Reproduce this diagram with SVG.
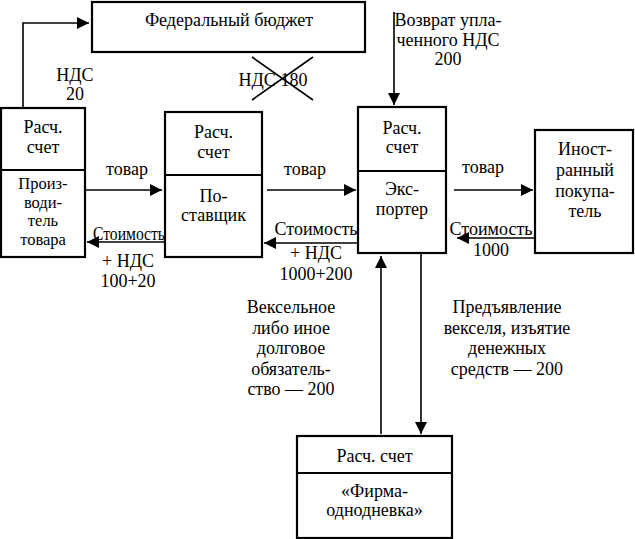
<svg xmlns="http://www.w3.org/2000/svg" width="635" height="539" viewBox="0 0 635 539">
<defs>
<marker id="ah" markerUnits="userSpaceOnUse" markerWidth="12" markerHeight="12" refX="12" refY="6" orient="auto">
<path d="M0,0 L12,6 L0,12 z" fill="#000"/>
</marker>
<style>
text{font-family:"Liberation Serif","Times New Roman",serif;font-size:18px;fill:#000;text-anchor:middle}
.tight{font-size:16.5px}
.box{fill:#fff;stroke:#000;stroke-width:2.2}
.ln{fill:none;stroke:#000;stroke-width:1.6}
.ar{fill:none;stroke:#000;stroke-width:1.6;marker-end:url(#ah)}
</style>
</defs>
<rect width="635" height="539" fill="#fff"/>

<g id="connectors">
<path class="ar" d="M23,108 V23 H89"/>
<path class="ar" d="M394,12 V105"/>
<path class="ar" d="M86,190 H162"/>
<path class="ar" d="M165,242 H87"/>
<path class="ar" d="M267,190 H356"/>
<path class="ar" d="M358,243 H264"/>
<path class="ar" d="M454,190 H533"/>
<path class="ar" d="M535,238 H457"/>
<path class="ar" d="M381,434 V256"/>
<path class="ar" d="M421,254 V434"/>
<path class="ln" d="M252,57 L313,100 M313,57 L252,100"/>
</g>

<g id="budget">
<rect class="box" x="92" y="2" width="273" height="50"/>
<text x="229" y="26">Федеральный бюджет</text>
</g>

<g id="producer">
<rect class="box" x="1" y="108" width="84" height="149"/>
<line class="box" x1="1" y1="170" x2="85" y2="170"/>
<text x="43" y="133">Расч.</text>
<text x="43" y="153">счет</text>
<text class="tight" x="43" y="189">Произ-</text>
<text class="tight" x="43" y="207.5">води-</text>
<text class="tight" x="43" y="226">тель</text>
<text class="tight" x="43" y="244.5">товара</text>
</g>

<g id="supplier">
<rect class="box" x="165" y="112" width="97" height="145"/>
<line class="box" x1="165" y1="175" x2="262" y2="175"/>
<text x="213.5" y="138">Расч.</text>
<text x="213.5" y="158">счет</text>
<text x="213.5" y="202">По-</text>
<text x="213.5" y="221">ставщик</text>
</g>

<g id="exporter">
<rect class="box" x="358" y="107" width="88" height="146"/>
<line class="box" x1="358" y1="171" x2="446" y2="171"/>
<text x="402" y="134">Расч.</text>
<text x="402" y="153">счет</text>
<text x="402" y="195">Экс-</text>
<text x="402" y="215">портер</text>
</g>

<g id="buyer">
<rect class="box" x="535" y="130" width="98" height="123"/>
<text x="585" y="155">Иност-</text>
<text x="585" y="176">ранный</text>
<text x="585" y="197">покупа-</text>
<text x="585" y="217">тель</text>
</g>

<g id="shell">
<rect class="box" x="297" y="436" width="155" height="102"/>
<line class="box" x1="297" y1="473" x2="452" y2="473"/>
<text x="374.5" y="462">Расч. счет</text>
<text x="374.5" y="497">«Фирма-</text>
<text x="374.5" y="516">однодневка»</text>
</g>

<g id="labels">
<text x="75" y="81">НДС</text>
<text x="75" y="100">20</text>
<text x="273" y="86">НДС  180</text>
<text x="448" y="26">Возврат упла-</text>
<text x="448" y="46">ченного НДС</text>
<text x="448" y="65">200</text>
<text x="127" y="175">товар</text>
<text x="305" y="175">товар</text>
<text x="483" y="173">товар</text>
<text x="129" y="240" textLength="72" lengthAdjust="spacingAndGlyphs">Стоимость</text>
<text x="128" y="267">+ НДС</text>
<text x="128" y="287">100+20</text>
<text x="316" y="235">Стоимость</text>
<text x="316" y="259">+ НДС</text>
<text x="316" y="280">1000+200</text>
<text x="491" y="235">Стоимость</text>
<text x="491" y="256">1000</text>
<text x="291" y="313">Вексельное</text>
<text x="291" y="333.5">либо иное</text>
<text x="291" y="354">долговое</text>
<text x="291" y="374.5">обязатель-</text>
<text x="291" y="395">ство — 200</text>
<text x="507" y="313">Предъявление</text>
<text x="507" y="333.5">векселя, изъятие</text>
<text x="507" y="354">денежных</text>
<text x="507" y="374.5">средств — 200</text>
</g>
</svg>
